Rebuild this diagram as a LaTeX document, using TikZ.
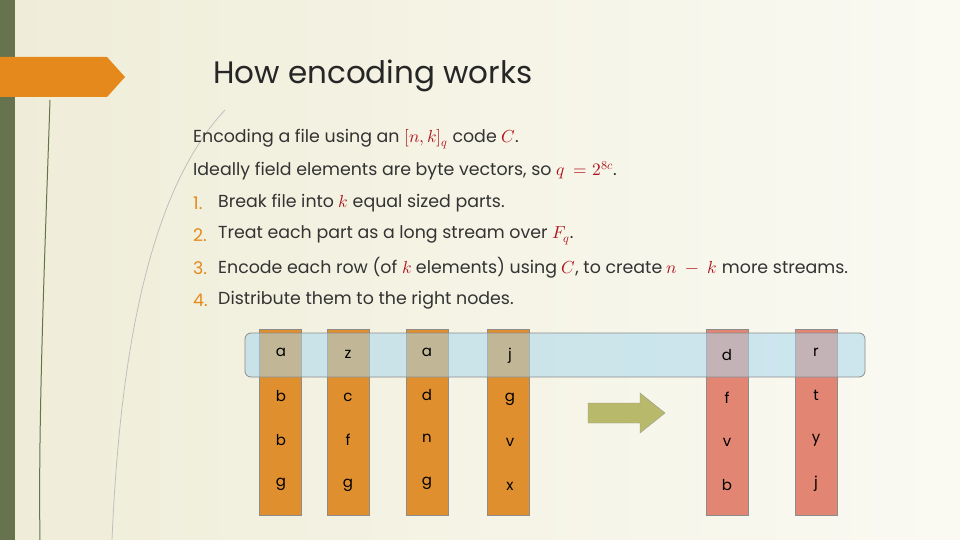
\documentclass[tikz,border=0pt]{standalone}
\usepackage{fontspec}
\setmainfont{Poppins}
\usepackage{unicode-math}
\setmathfont{Latin Modern Math}
\definecolor{bg}{HTML}{EFEDD8}
\definecolor{bg2}{HTML}{FAFAF3}
\definecolor{darkg}{HTML}{67724F}
\definecolor{orng}{HTML}{E5891C}
\definecolor{colL}{HTML}{E08F2E}
\definecolor{colR}{HTML}{E38573}
\definecolor{mred}{HTML}{B0121B}
\definecolor{arrg}{HTML}{B8B96A}
\definecolor{blu}{HTML}{A9D8EE}
\begin{document}
\begin{tikzpicture}[x=1pt,y=-1pt,
 txt/.style={anchor=west,inner sep=0pt,font=\fontsize{17.4}{20}\selectfont,text=black!80},
 num/.style={anchor=west,inner sep=0pt,font=\fontsize{17.4}{20}\selectfont,text=orng},
 cell/.style={font=\fontsize{15}{18}\selectfont,inner sep=0pt},
 colbox/.style={draw=black!45,line width=0.8pt,minimum width=42pt,minimum height=186pt,anchor=north,inner sep=0pt}]
\useasboundingbox (0,0) rectangle (960,540);
\shade[left color=bg,right color=bg2] (0,0) rectangle (960,540);
\fill[darkg] (0,0) rectangle (15,540);
\draw[darkg,line width=1pt] (50,100) .. controls (45,250) and (38,420) .. (40,540);
\draw[black!25,line width=0.8pt] (225,110) .. controls (150,190) and (120,350) .. (112,540);
\fill[orng] (0,57) -- (107,57) -- (125,77) -- (107,97) -- (0,97) -- cycle;
\node[anchor=west,inner sep=0pt,font=\fontsize{31}{36}\selectfont,text=black!85] (title) at (213,76) {How encoding works};
\node[txt] (l1) at (193,139) {Encoding a file using an \textcolor{mred}{$[n,k]_q$} code \textcolor{mred}{$C$}.};
\node[txt] (l2) at (193,171) {Ideally field elements are byte vectors, so \textcolor{mred}{$q\ =2^{8c}$}.};
\node[num] (n1) at (193,203) {1.};
\node[txt] (l3) at (218,203) {Break file into \textcolor{mred}{$k$} equal sized parts.};
\node[num] (n2) at (193,235) {2.};
\node[txt] (l4) at (218,235) {Treat each part as a long stream over \textcolor{mred}{$F_q$}.};
\node[num] (n3) at (193,268) {3.};
\node[txt] (l5) at (218,268) {Encode each row (of \textcolor{mred}{$k$} elements) using \textcolor{mred}{$C$}, to create \textcolor{mred}{$n\ -\ k$} more streams.};
\node[num] (n4) at (193,300) {4.};
\node[txt] (l6) at (218,300) {Distribute them to the right nodes.};
\foreach \x/\c [count=\i] in {280/colL,348/colL,427/colL,508/colL,727/colR,816/colR}
  \node[colbox,fill=\c] (c\i) at (\x,329) {};
\node[draw=black!45,line width=0.8pt,fill=blu,fill opacity=0.55,rounded corners=6pt,minimum width=620pt,minimum height=44pt,inner sep=0pt] (band) at (555,355) {};
\draw[draw=black!40,fill=arrg] (588,403) -- (640,403) -- (640,393) -- (665,413) -- (640,433) -- (640,423) -- (588,423) -- cycle;
\node[cell] at (281,352) {a}; \node[cell] at (348,354) {z}; \node[cell] at (427,352) {a}; \node[cell] at (510,356) {j}; \node[cell] at (727,355) {d}; \node[cell] at (816,352) {r};
\node[cell] at (281,396) {b}; \node[cell] at (348,397) {c}; \node[cell] at (427,395) {d}; \node[cell] at (510,399) {g}; \node[cell] at (727,398) {f}; \node[cell] at (816,395) {t};
\node[cell] at (281,440) {b}; \node[cell] at (348,440) {f}; \node[cell] at (427,438) {n}; \node[cell] at (510,442) {v}; \node[cell] at (727,442) {v}; \node[cell] at (816,440) {y};
\node[cell] at (281,484) {g}; \node[cell] at (348,485) {g}; \node[cell] at (427,483) {g}; \node[cell] at (510,486) {x}; \node[cell] at (727,485) {b}; \node[cell] at (816,484) {j};
\end{tikzpicture}
\end{document}
